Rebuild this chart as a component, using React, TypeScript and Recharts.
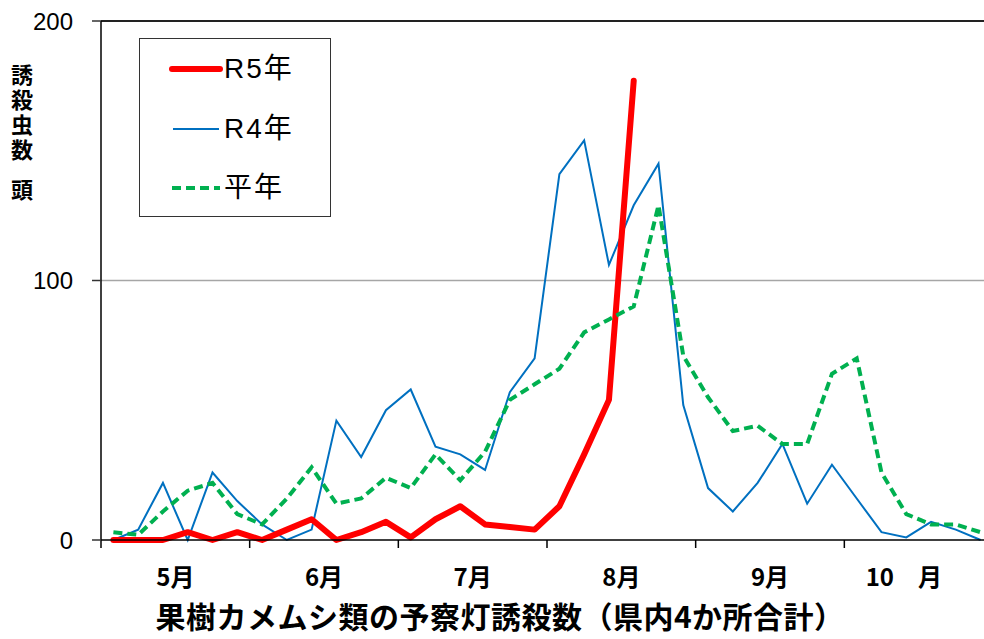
import React from 'react';
import { LineChart, Line, XAxis, YAxis, ReferenceLine } from 'recharts';

const months = ['5月', '6月', '7月', '8月', '9月', '10　月'];
const monthLabelPos = [3, 9, 15, 21, 27, 32.4];
const monthBoundaries = [0, 6, 12, 18, 24, 30, 36];
const yTicks = [0, 100, 200];

const r5 = [0, 0, 0, 3, 0, 3, 0, 4, 8, 0, 3, 7, 1, 8, 13, 6, 5, 4, 13, 33, 54, 177];
const r4 = [0, 4, 22, 0, 26, 15, 6, 0, 4, 46, 32, 50, 58, 36, 33, 27, 57, 70, 141, 154, 106, 129, 145, 52, 20, 11, 22, 37, 14, 29, 16, 3, 1, 7, 4, 0];
const avg = [3, 2, 11, 19, 22, 10, 6, 16, 28, 14, 16, 24, 20, 33, 23, 34, 54, 60, 66, 80, 85, 90, 129, 71, 55, 42, 44, 37, 37, 64, 70, 26, 10, 6, 6, 3];

const seriesNames = ['R5年', 'R4年', '平年'];
const yLabelMain = '誘殺虫数';
const yLabelUnit = '頭';
const title = '果樹カメムシ類の予察灯誘殺数（県内4か所合計）';

const data = r4.map((v, i) => ({
  x: i + 0.5,
  r5: i < r5.length ? r5[i] : null,
  r4: v,
  avg: avg[i],
}));

const RED = '#FF0000';
const BLUE = '#0070C0';
const GREEN = '#00B050';
const JP = '"Noto Sans CJK JP", "Noto Sans", sans-serif';

function LegendRow({ top, name, kind }: { top: number; name: string; kind: number }) {
  return (
    <div style={{ position: 'absolute', left: 28, top: top - 20, height: 40, display: 'flex', alignItems: 'center' }}>
      <svg width={56} height={40} style={{ display: 'block' }}>
        {kind === 0 && <line x1={4} y1={20} x2={52} y2={20} stroke={RED} strokeWidth={6} strokeLinecap="round" />}
        {kind === 1 && <line x1={5} y1={20} x2={51} y2={20} stroke={BLUE} strokeWidth={2} />}
        {kind === 2 && <line x1={4} y1={20} x2={52} y2={20} stroke={GREEN} strokeWidth={4} strokeDasharray="9 5" />}
      </svg>
      <span style={{ fontFamily: '"Liberation Sans", "Noto Sans CJK JP", sans-serif', fontSize: 28, letterSpacing: 2, color: '#000', lineHeight: '40px' }}>{name}</span>
    </div>
  );
}

export default function App() {
  return (
    <div style={{ position: 'absolute', left: 0, top: 0, width: 984, height: 639, overflow: 'hidden', background: '#fff' }}>
      <LineChart width={1000} height={639} data={data} margin={{ top: 21, right: 7, bottom: 39, left: 41 }}>
        <XAxis
          xAxisId="main"
          type="number"
          dataKey="x"
          domain={[0, 36]}
          ticks={monthBoundaries}
          interval={0}
          tickFormatter={() => ''}
          height={10}
          tickSize={8}
          axisLine={{ stroke: '#000', strokeWidth: 1.5 }}
          tickLine={{ stroke: '#000', strokeWidth: 1.5 }}
        />
        <XAxis
          xAxisId="month"
          type="number"
          dataKey="x"
          domain={[0, 36]}
          ticks={monthLabelPos}
          interval={0}
          tickFormatter={(v: number, i: number) => months[i]}
          height={50}
          axisLine={false}
          tickLine={false}
          tickSize={0}
          tickMargin={19}
          tick={{ fontFamily: JP, fontSize: 24, fontWeight: 700, fill: '#000' }}
        />
        <YAxis
          domain={[0, 200]}
          ticks={yTicks}
          interval={0}
          width={60}
          tickSize={9}
          tickMargin={19}
          axisLine={{ stroke: '#000', strokeWidth: 1.5 }}
          tickLine={{ stroke: '#333', strokeWidth: 1.5 }}
          tick={{ fontFamily: '"Liberation Sans", sans-serif', fontSize: 24, fill: '#000' }}
        />
        <ReferenceLine xAxisId="main" y={100} stroke="#a6a6a6" strokeWidth={1.5} />
        <ReferenceLine xAxisId="main" y={200} stroke="#222" strokeWidth={1.8} />
        <Line xAxisId="main" type="linear" dataKey="r4" stroke={BLUE} strokeWidth={2} dot={false} isAnimationActive={false} />
        <Line xAxisId="main" type="linear" dataKey="r5" stroke={RED} strokeWidth={6} strokeLinecap="round" strokeLinejoin="round" dot={false} isAnimationActive={false} />
        <Line xAxisId="main" type="linear" dataKey="avg" stroke={GREEN} strokeWidth={4} strokeDasharray="9 5" dot={false} isAnimationActive={false} />
      </LineChart>

      <div style={{ position: 'absolute', left: 139, top: 38, width: 192, height: 179, border: '1px solid #333', boxSizing: 'border-box' }}>
        <LegendRow top={30} name={seriesNames[0]} kind={0} />
        <LegendRow top={90} name={seriesNames[1]} kind={1} />
        <LegendRow top={149} name={seriesNames[2]} kind={2} />
      </div>

      <div style={{ position: 'absolute', left: 6, top: 64, height: 104, width: 32, writingMode: 'vertical-rl', fontFamily: JP, fontSize: 22, fontWeight: 700, letterSpacing: 3, lineHeight: '32px', color: '#000' }}>
        {yLabelMain}
      </div>
      <div style={{ position: 'absolute', left: 10, top: 176, width: 24, fontFamily: JP, fontSize: 22, fontWeight: 700, lineHeight: '25px', textAlign: 'center', color: '#000' }}>
        {yLabelUnit}
      </div>

      <div style={{ position: 'absolute', left: 16, top: 597, width: 968, textAlign: 'center', fontFamily: JP, fontSize: 30, fontWeight: 700, letterSpacing: 0.5, lineHeight: '36px', color: '#000', whiteSpace: 'nowrap' }}>
        {title}
      </div>
    </div>
  );
}
